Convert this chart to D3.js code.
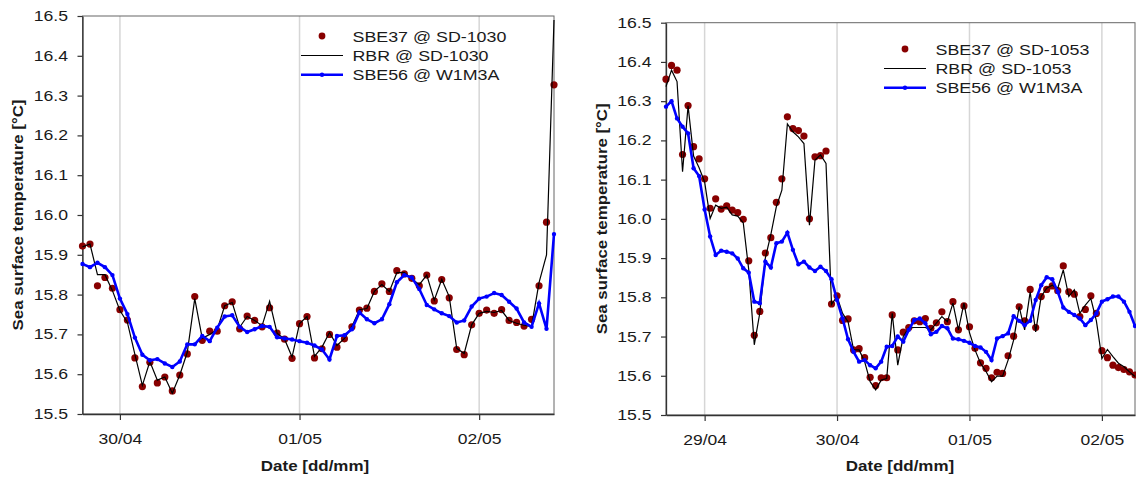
<!DOCTYPE html>
<html>
<head>
<meta charset="utf-8">
<script src="https://cdn.jsdelivr.net/npm/d3@7/dist/d3.min.js"></script>
<style>
  body { margin: 0; background: #fff; }
  text { font-family: Arial, "Liberation Sans", sans-serif; fill: #1a1a1a; }
</style>
</head>
<body>
<div id="chart"></div>
<script>
// hourly series, first sample at the start time of each panel
let leftStart = new Date(2015, 3, 29, 19);
let rightStart = new Date(2015, 3, 28, 17);

let leftSbe37 = [15.922, 15.927, 15.822, 15.843, 15.816, 15.762, 15.736, 15.641, 15.569, 15.630,
  15.578, 15.593, 15.558, 15.598, 15.651, 15.795, 15.685, 15.708, 15.708, 15.772,
  15.782, 15.714, 15.746, 15.735, 15.719, 15.767, 15.703, 15.688, 15.640, 15.727,
  15.745, 15.641, 15.664, 15.700, 15.668, 15.689, 15.719, 15.761, 15.766, 15.808,
  15.827, 15.808, 15.860, 15.852, 15.841, 15.822, 15.849, 15.784, 15.838, 15.792,
  15.662, 15.649, 15.724, 15.753, 15.761, 15.753, 15.762, 15.735, 15.730, 15.721,
  15.738, 15.822, 15.982, 16.327];
let leftRbr = [15.920, 15.927, 15.850, 15.850, 15.810, 15.760, 15.730, 15.650, 15.572, 15.632,
  15.585, 15.593, 15.552, 15.598, 15.655, 15.790, 15.690, 15.700, 15.712, 15.772,
  15.780, 15.718, 15.745, 15.735, 15.722, 15.783, 15.703, 15.688, 15.643, 15.727,
  15.745, 15.645, 15.668, 15.705, 15.672, 15.690, 15.720, 15.762, 15.765, 15.808,
  15.825, 15.808, 15.855, 15.855, 15.840, 15.825, 15.849, 15.786, 15.838, 15.795,
  15.665, 15.652, 15.724, 15.753, 15.758, 15.755, 15.760, 15.735, 15.728, 15.723,
  15.720, 15.830, 15.900, 16.490];
let leftSbe56 = [15.877, 15.869, 15.880, 15.869, 15.849, 15.790, 15.751, 15.692, 15.649, 15.635,
  15.638, 15.627, 15.618, 15.632, 15.675, 15.675, 15.696, 15.683, 15.717, 15.745,
  15.748, 15.719, 15.706, 15.713, 15.721, 15.719, 15.693, 15.690, 15.687, 15.683,
  15.679, 15.672, 15.662, 15.637, 15.696, 15.698, 15.713, 15.755, 15.738, 15.728,
  15.738, 15.776, 15.831, 15.849, 15.843, 15.814, 15.774, 15.763, 15.753, 15.746,
  15.730, 15.735, 15.770, 15.790, 15.795, 15.804, 15.799, 15.782, 15.765, 15.730,
  15.719, 15.778, 15.714, 15.952];

let rightSbe37 = [16.356, 16.391, 16.379, 16.164, 16.289, 16.184, 16.153, 16.102, 16.027, 16.051,
  16.025, 16.033, 16.022, 16.016, 15.999, 15.893, 15.703, 15.764, 15.913, 15.952,
  16.042, 16.102, 16.260, 16.230, 16.225, 16.211, 16.000, 16.158, 16.161, 16.173,
  15.783, 15.804, 15.741, 15.745, 15.666, 15.669, 15.646, 15.596, 15.575, 15.595,
  15.595, 15.755, 15.666, 15.711, 15.723, 15.740, 15.738, 15.746, 15.721, 15.735,
  15.763, 15.738, 15.789, 15.717, 15.778, 15.725, 15.670, 15.633, 15.619, 15.595,
  15.609, 15.606, 15.651, 15.701, 15.776, 15.740, 15.820, 15.723, 15.802, 15.820,
  15.829, 15.817, 15.880, 15.814, 15.808, 15.751, 15.769, 15.804, 15.759, 15.664,
  15.646, 15.627, 15.621, 15.616, 15.610, 15.602];
let rightRbr = [16.337, 16.379, 16.350, 16.120, 16.288, 16.160, 16.130, 16.094, 16.001, 16.035,
  16.027, 16.030, 16.010, 16.007, 15.990, 15.870, 15.679, 15.760, 15.900, 15.960,
  16.031, 16.073, 16.242, 16.222, 16.209, 16.192, 15.984, 16.150, 16.163, 16.141,
  15.782, 15.802, 15.759, 15.738, 15.666, 15.666, 15.636, 15.585, 15.564, 15.589,
  15.593, 15.759, 15.627, 15.700, 15.722, 15.723, 15.723, 15.723, 15.717, 15.734,
  15.751, 15.738, 15.785, 15.717, 15.785, 15.710, 15.666, 15.632, 15.611, 15.585,
  15.599, 15.599, 15.640, 15.691, 15.776, 15.717, 15.814, 15.712, 15.802, 15.823,
  15.831, 15.823, 15.870, 15.802, 15.819, 15.759, 15.780, 15.797, 15.740, 15.644,
  15.667, 15.649, 15.632, 15.623, 15.610, 15.598];
let rightSbe56 = [16.286, 16.300, 16.256, 16.235, 16.218, 16.129, 16.109, 16.024, 15.955, 15.908,
  15.919, 15.916, 15.912, 15.899, 15.874, 15.863, 15.789, 15.785, 15.891, 15.876,
  15.938, 15.942, 15.965, 15.921, 15.884, 15.891, 15.876, 15.867, 15.878, 15.867,
  15.846, 15.793, 15.746, 15.693, 15.661, 15.636, 15.640, 15.627, 15.619, 15.636,
  15.674, 15.676, 15.700, 15.687, 15.717, 15.742, 15.746, 15.734, 15.706, 15.712,
  15.727, 15.721, 15.695, 15.693, 15.689, 15.684, 15.676, 15.672, 15.661, 15.640,
  15.695, 15.701, 15.708, 15.752, 15.740, 15.729, 15.740, 15.793, 15.831, 15.851,
  15.846, 15.814, 15.774, 15.763, 15.755, 15.746, 15.729, 15.742, 15.759, 15.789,
  15.795, 15.802, 15.802, 15.789, 15.763, 15.727];

let leftDays = [new Date(2015, 3, 30), new Date(2015, 4, 1), new Date(2015, 4, 2)];
let rightDays = [new Date(2015, 3, 29), new Date(2015, 3, 30), new Date(2015, 4, 1), new Date(2015, 4, 2)];
let yTicks = [15.5, 15.6, 15.7, 15.8, 15.9, 16.0, 16.1, 16.2, 16.3, 16.4, 16.5];

((() => {

  let width = 1136;
  let height = 477;

  let svg = d3.select("#chart")
    .append("svg")
    .attr("width", width)
    .attr("height", height);

  // stretch text horizontally, the source figure was scaled wider than tall
  function widen(sel, k) {
    sel.each(function() {
      let len = this.getComputedTextLength();
      d3.select(this).attr("textLength", len * k).attr("lengthAdjust", "spacingAndGlyphs");
    });
  }

  let panels = [
    { x0: 82.5, x1: 554, y0: 16, y1: 414, start: leftStart, sbe37: leftSbe37, rbr: leftRbr, sbe56: leftSbe56,
      days: leftDays, site: "SD-1030", legX: 322, legY: 36, titleX: 23, dateX: 315 },
    { x0: 666, x1: 1135, y0: 22.7, y1: 415, start: rightStart, sbe37: rightSbe37, rbr: rightRbr, sbe56: rightSbe56,
      days: rightDays, site: "SD-1053", legX: 905, legY: 49, titleX: 607, dateX: 900 }
  ];

  panels.forEach(drawPanel);

  function drawPanel(p) {
    let n = p.sbe37.length;
    let times = d3.range(n).map(i => d3.timeHour.offset(p.start, i));

    let x = d3.scaleTime().domain([times[0], times[n - 1]]).range([p.x0, p.x1]);
    let y = d3.scaleLinear().domain([15.5, 16.5]).range([p.y1, p.y0]);

    let g = svg.append("g");

    // vertical day grid
    g.selectAll("line.grid")
      .data(p.days)
      .enter()
      .append("line")
      .attr("class", "grid")
      .attr("x1", d => x(d)).attr("x2", d => x(d))
      .attr("y1", p.y0).attr("y2", p.y1)
      .attr("stroke", "#d6d6d6")
      .attr("stroke-width", 1.5);

    // frame
    g.append("rect")
      .attr("x", p.x0).attr("y", p.y0)
      .attr("width", p.x1 - p.x0).attr("height", p.y1 - p.y0)
      .attr("fill", "none")
      .attr("stroke", "#666")
      .attr("stroke-width", 1);

    let xAxis = g.append("g")
      .attr("transform", `translate(0,${p.y1})`)
      .call(d3.axisBottom(x).tickValues(p.days).tickFormat(d3.timeFormat("%d/%m")).tickSizeInner(6).tickSizeOuter(0));
    xAxis.select(".domain").attr("stroke", "#333").attr("stroke-width", 1.3);
    xAxis.selectAll(".tick line").attr("stroke", "#333").attr("stroke-width", 1.2);
    xAxis.selectAll("text").attr("y", 30).attr("dy", null)
      .attr("font-size", 14).attr("fill", "#1a1a1a").attr("font-family", "Arial, 'Liberation Sans', sans-serif");
    widen(xAxis.selectAll("text"), 1.25);

    let yAxis = g.append("g")
      .attr("transform", `translate(${p.x0},0)`)
      .call(d3.axisLeft(y).tickValues(yTicks).tickFormat(d3.format(".1f")).tickSizeInner(5).tickSizeOuter(0).tickPadding(9.5));
    yAxis.select(".domain").attr("stroke", "#333").attr("stroke-width", 1.3);
    yAxis.selectAll(".tick line").attr("stroke", "#333").attr("stroke-width", 1.2);
    yAxis.selectAll("text")
      .attr("font-size", 14).attr("fill", "#1a1a1a").attr("font-family", "Arial, 'Liberation Sans', sans-serif");
    widen(yAxis.selectAll("text"), 1.26);

    // axis titles
    let yTitle = g.append("text")
      .attr("transform", `translate(${p.titleX},${(p.y0 + p.y1) / 2}) rotate(-90)`)
      .attr("text-anchor", "middle")
      .attr("font-size", 15)
      .attr("font-weight", "bold")
      .text("Sea surface temperature [°C]");
    widen(yTitle, 1.12);

    let xTitle = g.append("text")
      .attr("x", p.dateX).attr("y", 471)
      .attr("text-anchor", "middle")
      .attr("font-size", 15)
      .attr("font-weight", "bold")
      .text("Date [dd/mm]");
    widen(xTitle, 1.13);

    // SBE37 dots
    g.append("g")
      .selectAll("circle")
      .data(p.sbe37)
      .enter()
      .append("circle")
      .attr("cx", (d, i) => x(times[i]))
      .attr("cy", d => y(d))
      .attr("r", 3.6)
      .attr("fill", "#880000");

    // RBR line
    let line = d3.line().x((d, i) => x(times[i])).y(d => y(d));
    g.append("path")
      .datum(p.rbr)
      .attr("d", line)
      .attr("fill", "none")
      .attr("stroke", "#000")
      .attr("stroke-width", 1.2);

    // SBE56 line with small markers
    g.append("path")
      .datum(p.sbe56)
      .attr("d", line)
      .attr("fill", "none")
      .attr("stroke", "#0000ff")
      .attr("stroke-width", 2.6);
    g.append("g")
      .selectAll("circle")
      .data(p.sbe56)
      .enter()
      .append("circle")
      .attr("cx", (d, i) => x(times[i]))
      .attr("cy", d => y(d))
      .attr("r", 2.2)
      .attr("fill", "#0000ff");

    // legend
    let legend = g.append("g").attr("transform", `translate(${p.legX},${p.legY})`);
    legend.append("circle").attr("cx", 0).attr("cy", 0).attr("r", 3.4).attr("fill", "#880000");
    legend.append("line").attr("x1", -21).attr("x2", 21).attr("y1", 19.5).attr("y2", 19.5)
      .attr("stroke", "#000").attr("stroke-width", 1.2);
    legend.append("line").attr("x1", -21).attr("x2", 21).attr("y1", 38.7).attr("y2", 38.7)
      .attr("stroke", "#0000ff").attr("stroke-width", 2.6);
    legend.append("circle").attr("cx", 0).attr("cy", 38.7).attr("r", 2.2).attr("fill", "#0000ff");

    let labels = ["SBE37 @ " + p.site, "RBR @ " + p.site, "SBE56 @ W1M3A"];
    let legText = legend.selectAll("text")
      .data(labels)
      .enter()
      .append("text")
      .attr("x", 30.5)
      .attr("y", (d, i) => i * 19.3 + 5.6)
      .attr("font-size", 15.5)
      .text(d => d);
    widen(legText, 1.15);
  }

})());
</script>
</body>
</html>
